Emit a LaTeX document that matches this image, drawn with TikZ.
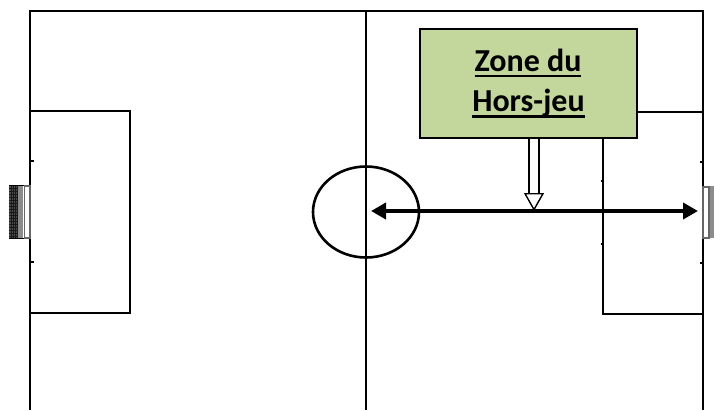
\documentclass[tikz,border=0pt]{standalone}
\usepackage{fontspec}
\setmainfont{Carlito}
\usetikzlibrary{arrows.meta,positioning,shapes.geometric}
\definecolor{zonegreen}{HTML}{C3D69B}
\tikzset{
  fieldline/.style={draw=black,line width=2.8pt},
  tickmark/.style={draw=black,line width=1.8pt},
  zonebox/.style={rectangle,draw=black,line width=2.2pt,fill=zonegreen,minimum width=217pt,minimum height=109pt,inner sep=0pt},
  zonetext/.style={inner sep=0pt,align=center,font=\fontsize{32}{41}\selectfont\bfseries},
  rangearrow/.style={draw=black,line width=4.8pt,{Triangle[length=15pt,width=16pt]}-{Triangle[length=15pt,width=16pt]}},
  pointarrow/.style={draw=black,line width=1.4pt,double=white,double distance=8.4pt,-{Triangle[open,fill=white,length=18pt,width=20pt,line width=1.4pt]}},
  goalpost/.style={draw=black!60,line width=1.2pt,fill=white}
}
\newcommand{\zoneline}[1]{\leavevmode\vtop{\hbox{\smash{#1}}\kern3.6pt\hrule height 2.8pt}}
\begin{document}
\begin{tikzpicture}[x=1pt,y=-1pt]
  \useasboundingbox (0,0) rectangle (714,410);
  % pitch
  \draw[fieldline] (30,410) -- (30,11) -- (703,11) -- (703,410);
  \draw[fieldline] (366,11) -- (366,410);
  \draw[fieldline] (30,111) -- (130,111) -- (130,313) -- (30,313);
  \draw[fieldline] (703,112) -- (603,112) -- (603,314) -- (703,314);
  \node[ellipse,draw=black,line width=2.6pt,minimum width=106pt,minimum height=91pt,inner sep=0pt] (centre) at (366,212) {};
  % small marks
  \foreach \y in {161,262} \draw[tickmark] (30,\y) -- (33.5,\y);
  \foreach \y in {162,263} \draw[tickmark] (699.5,\y) -- (703,\y);
  \foreach \y in {181,244} \draw[tickmark] (600.5,\y) -- (603,\y);
  % left goal
  \fill[black!70] (9,185) rectangle (17,238);
  \fill[black!45] (17,185) rectangle (23,238);
  \foreach \x in {11,13,15,17} \draw[black!90,line width=.5pt] (\x,185) -- (\x,238);
  \foreach \y in {188,191,...,236} \draw[black!90,line width=.5pt] (9,\y) -- (17,\y);
  \draw[black,line width=1pt] (9,185) -- (24,185) (9,238) -- (24,238);
  \draw[goalpost] (24.5,186) rectangle (30,238);
  % right goal
  \fill[black!45] (710,186) rectangle (714,238);
  \draw[goalpost] (703,187) rectangle (709,238);
  % offside zone
  \node[zonebox] (zone) at (528.5,83.5) {};
  \node[zonetext,anchor=base] (zonetop) at (528,71) {\zoneline{Zone du}};
  \node[zonetext,anchor=base] (zonebot) at (528.5,111.5) {\zoneline{Hors-jeu}};
  \coordinate (lineL) at (371,211);
  \coordinate (lineR) at (698,211);
  \coordinate (lineM) at (534,211);
  \draw[rangearrow] (lineL) -- (lineR);
  \draw[pointarrow] (zone.south -| lineM) -- (lineM);
\end{tikzpicture}
\end{document}
